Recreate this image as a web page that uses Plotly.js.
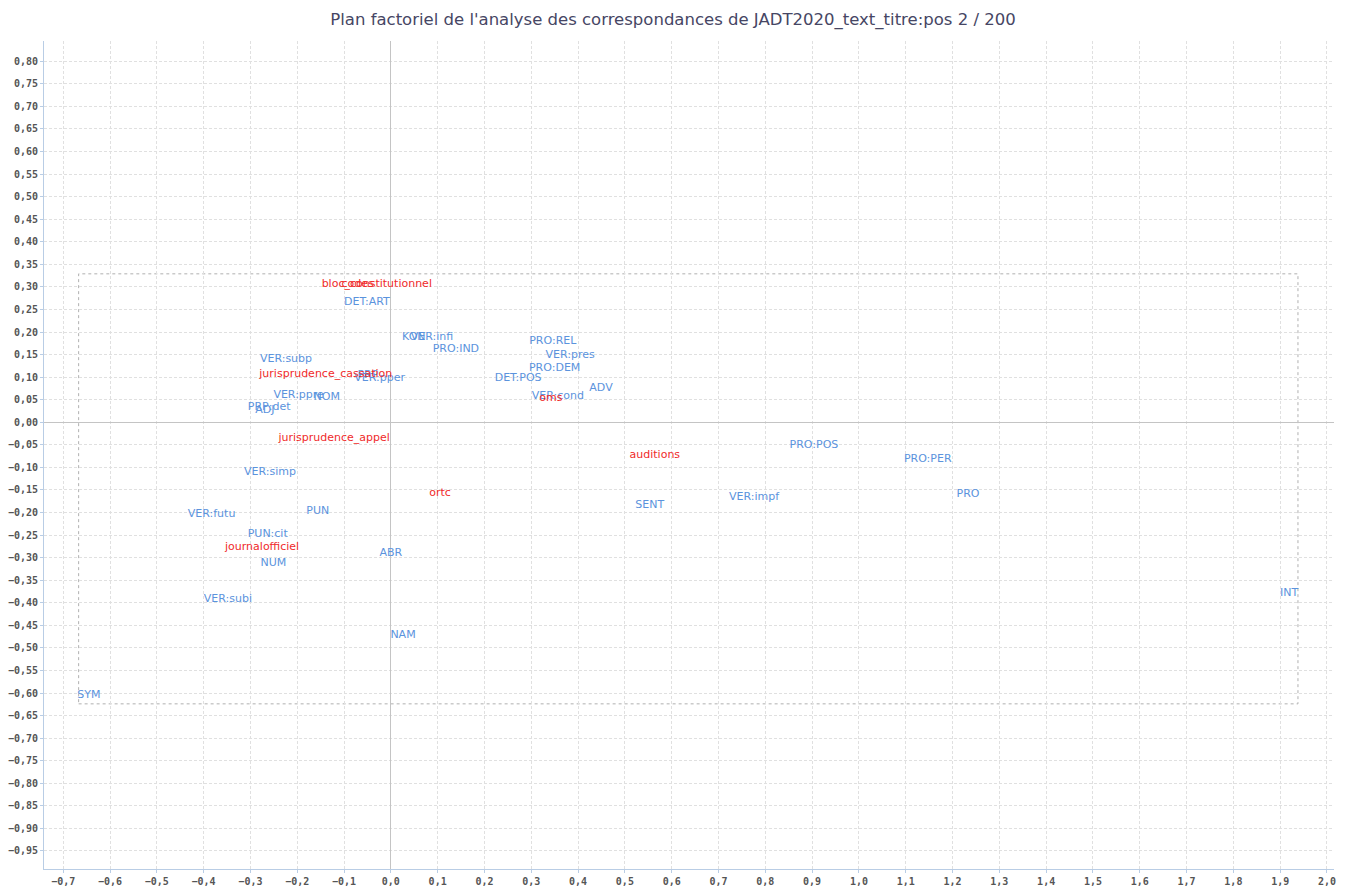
<!DOCTYPE html>
<html>
<head>
<meta charset="utf-8">
<script src="https://cdn.plot.ly/plotly-3.0.1.min.js"></script>
<style>html,body{margin:0;padding:0;background:#fff;}#chart{width:1346px;height:886px;}</style>
</head>
<body>
<div id="chart"></div>
<script>
// Part-of-speech categories (blue)
const posLabels = ["DET:ART","KON","VER:infi","PRO:IND","VER:subp","PRP","VER:pper","VER:ppre","NOM","PRP:det","ADJ",
  "VER:simp","PUN","VER:futu","PUN:cit","NUM","ABR","VER:subi","NAM","SYM",
  "PRO:REL","VER:pres","PRO:DEM","DET:POS","ADV","VER:cond",
  "PRO:POS","PRO:PER","SENT","VER:impf","PRO","INT"];
const posX = [-0.051,0.049,0.088,0.139,-0.224,-0.049,-0.024,-0.197,-0.137,-0.260,-0.269,
  -0.258,-0.156,-0.383,-0.263,-0.251,0.000,-0.348,0.026,-0.645,
  0.346,0.383,0.350,0.272,0.449,0.357,
  0.904,1.147,0.553,0.776,1.233,1.919];
const posY = [0.267,0.189,0.189,0.162,0.140,0.105,0.098,0.060,0.056,0.033,0.027,
  -0.111,-0.198,-0.204,-0.249,-0.313,-0.291,-0.393,-0.473,-0.604,
  0.180,0.149,0.120,0.098,0.076,0.058,
  -0.051,-0.082,-0.184,-0.167,-0.160,-0.378];

// Text parts (red)
const textLabels = ["bloc_constitutionnel","codes","jurisprudence_cassation","jurisprudence_appel","journalofficiel","ortc","oms","auditions"];
const textX = [-0.030,-0.071,-0.139,-0.121,-0.275,0.105,0.342,0.564];
const textY = [0.307,0.307,0.107,-0.036,-0.276,-0.158,0.053,-0.073];

const labelFont = {family: "DejaVu Sans", size: 11};

const traces = [
  {x: posX, y: posY, text: posLabels, mode: "text", type: "scatter", textposition: "middle center",
   textfont: Object.assign({color: "#5b93dd"}, labelFont), hoverinfo: "skip"},
  {x: textX, y: textY, text: textLabels, mode: "text", type: "scatter", textposition: "middle center",
   textfont: Object.assign({color: "#f02a2a"}, labelFont), hoverinfo: "skip"}
];

const axisCommon = {
  showgrid: true, gridcolor: "#e0e0e0", griddash: "3px,2px", gridwidth: 1,
  zeroline: true, zerolinecolor: "#c4c4c4", zerolinewidth: 1,
  showline: true, linecolor: "#b9cde5", linewidth: 1,
  ticks: "outside", ticklen: 3, tickcolor: "#b9cde5",
  tickfont: {family: "DejaVu Sans Mono", size: 10, color: "#555555", weight: "bold"},
  automargin: false, mirror: false
};

const layout = {
  width: 1346, height: 886,
  paper_bgcolor: "#ffffff", plot_bgcolor: "#ffffff",
  separators: ", ",
  showlegend: false,
  hovermode: false,
  margin: {l: 44, r: 12, t: 41, b: 17},
  title: {text: "Plan factoriel de l'analyse des correspondances de JADT2020_text_titre:pos 2 / 200",
          font: {family: "DejaVu Sans", size: 16.5, color: "#464664"},
          x: 0.5, xanchor: "center", y: 0.978, yanchor: "middle", yref: "container"},
  xaxis: Object.assign({}, axisCommon, {range: [-0.741, 2.015], dtick: 0.1, tick0: 0, tickformat: ".1f"}),
  yaxis: Object.assign({}, axisCommon, {range: [-0.990, 0.845], dtick: 0.05, tick0: 0, tickformat: ".2f"}),
  shapes: [{type: "rect", xref: "x", yref: "y", x0: -0.667, x1: 1.938, y0: -0.624, y1: 0.329,
            line: {color: "#b0b0b0", width: 1, dash: "dot"}, fillcolor: "rgba(0,0,0,0)", layer: "below"}]
};

Plotly.newPlot("chart", traces, layout, {displayModeBar: false, staticPlot: true});
</script>
</body>
</html>
